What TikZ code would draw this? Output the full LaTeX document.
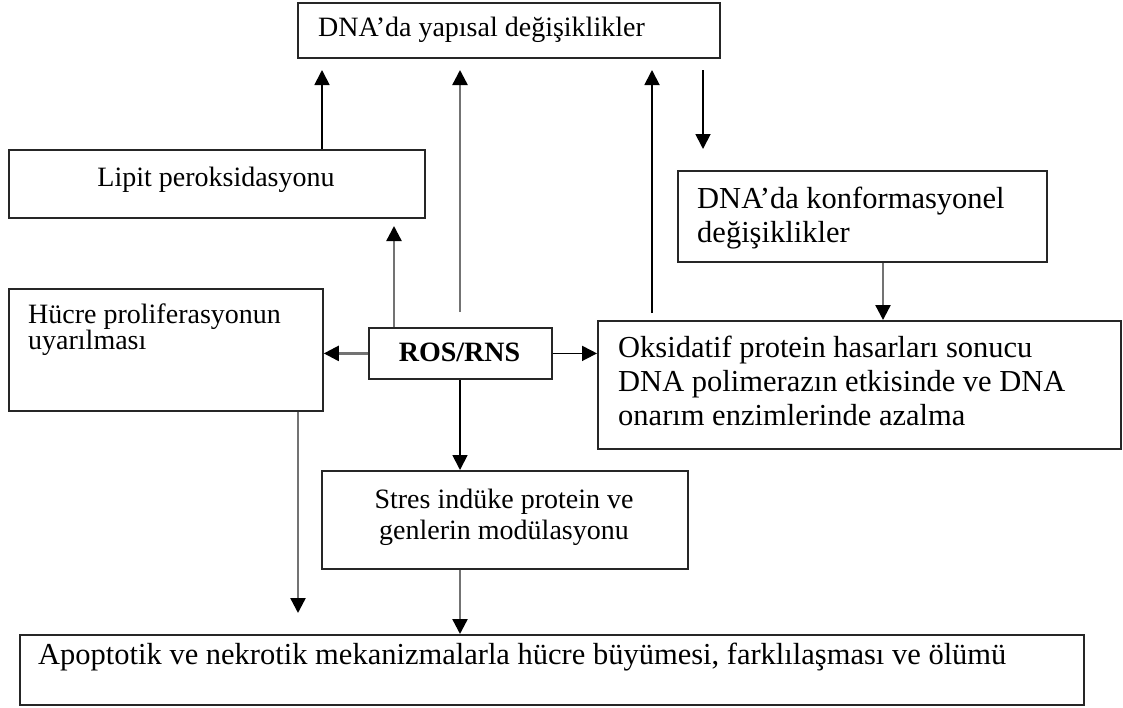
\documentclass[tikz,border=0pt]{standalone}
\usepackage{fontspec}
\setmainfont{Liberation Serif}
\usetikzlibrary{arrows.meta}
\begin{document}
\begin{tikzpicture}[x=1pt,y=-1pt,
  box/.style={draw=black!85, line width=1.8pt, inner sep=0pt, anchor=north west},
  txt/.style={inner sep=0pt, font=\fontsize{28}{32}\selectfont},
  bigtxt/.style={inner sep=0pt, font=\fontsize{30.5}{34}\selectfont},
  tip/.style={-{Triangle[width=15pt,length=15pt,color=black]}},
  blk/.style={tip, draw=black, line width=1.8pt},
  gry/.style={tip, draw=black!55, line width=2.4pt}]
\useasboundingbox (0,0) rectangle (1123,707);
% boxes
\node[box, minimum width=422pt, minimum height=55pt] (top) at (297,2) {};
\node[box, minimum width=416pt, minimum height=68pt] (lip) at (8,149) {};
\node[box, minimum width=369pt, minimum height=91pt] (conf) at (677,170) {};
\node[box, minimum width=314pt, minimum height=122pt] (huc) at (8,288) {};
\node[box, minimum width=183pt, minimum height=51pt] (ros) at (368,327) {};
\node[box, minimum width=523pt, minimum height=128pt] (oks) at (597,320) {};
\node[box, minimum width=366pt, minimum height=98pt] (str) at (321,470) {};
\node[box, minimum width=1064pt, minimum height=70pt] (bot) at (19,634) {};
% texts
\node[txt, anchor=base west] (ttop) at (318,36) {DNA’da yapısal değişiklikler};
\node[txt, anchor=base] (tlip) at (216,186) {Lipit peroksidasyonu};
\node[bigtxt, anchor=base west] (tconf1) at (697,208) {DNA’da konformasyonel};
\node[bigtxt, anchor=base west] (tconf2) at (697,242) {değişiklikler};
\node[txt, anchor=base west] (thuc1) at (28,323) {Hücre proliferasyonun};
\node[txt, anchor=base west] (thuc2) at (28,349) {uyarılması};
\node[txt, anchor=base, font=\fontsize{28}{32}\selectfont\bfseries] (tros) at (459.5,361) {ROS/RNS};
\node[bigtxt, anchor=base west] (toks1) at (618,357) {Oksidatif protein hasarları sonucu};
\node[bigtxt, anchor=base west] (toks2) at (618,391) {DNA polimerazın etkisinde ve DNA};
\node[bigtxt, anchor=base west] (toks3) at (618,425) {onarım enzimlerinde azalma};
\node[txt, anchor=base] (tstr1) at (504,508) {Stres indüke protein ve};
\node[txt, anchor=base] (tstr2) at (504,539) {genlerin modülasyonu};
\node[bigtxt, anchor=base west] (tbot) at (38,664) {Apoptotik ve nekrotik mekanizmalarla hücre büyümesi, farklılaşması ve ölümü};
% free ends
\coordinate (a1) at (322,70);
\coordinate (a2s) at (460,312);
\coordinate (a2) at (460,70);
\coordinate (a3s) at (652,313);
\coordinate (a3) at (652,70);
\coordinate (a4s) at (703,70);
\coordinate (a4) at (703,149);
\coordinate (a5) at (394,226);
\coordinate (a6) at (298,613);
% connectors
\draw[blk] (lip.north -| a1) -- (a1);
\draw[gry] (a2s) -- (a2);
\draw[blk] (a3s) -- (a3);
\draw[blk] (a4s) -- (a4);
\draw[gry] (ros.north -| a5) -- (a5);
\draw[gry] (ros.west) -- (huc.east |- ros.west);
\draw[blk] (ros.east) -- (oks.west |- ros.east);
\draw[blk] (ros.south -| a2) -- (str.north -| a2);
\draw[gry] (conf.south -| 883,0) -- (oks.north -| 883,0);
\draw[gry] (huc.south -| a6) -- (a6);
\draw[gry] (str.south -| a2) -- (bot.north -| a2);
\end{tikzpicture}
\end{document}
